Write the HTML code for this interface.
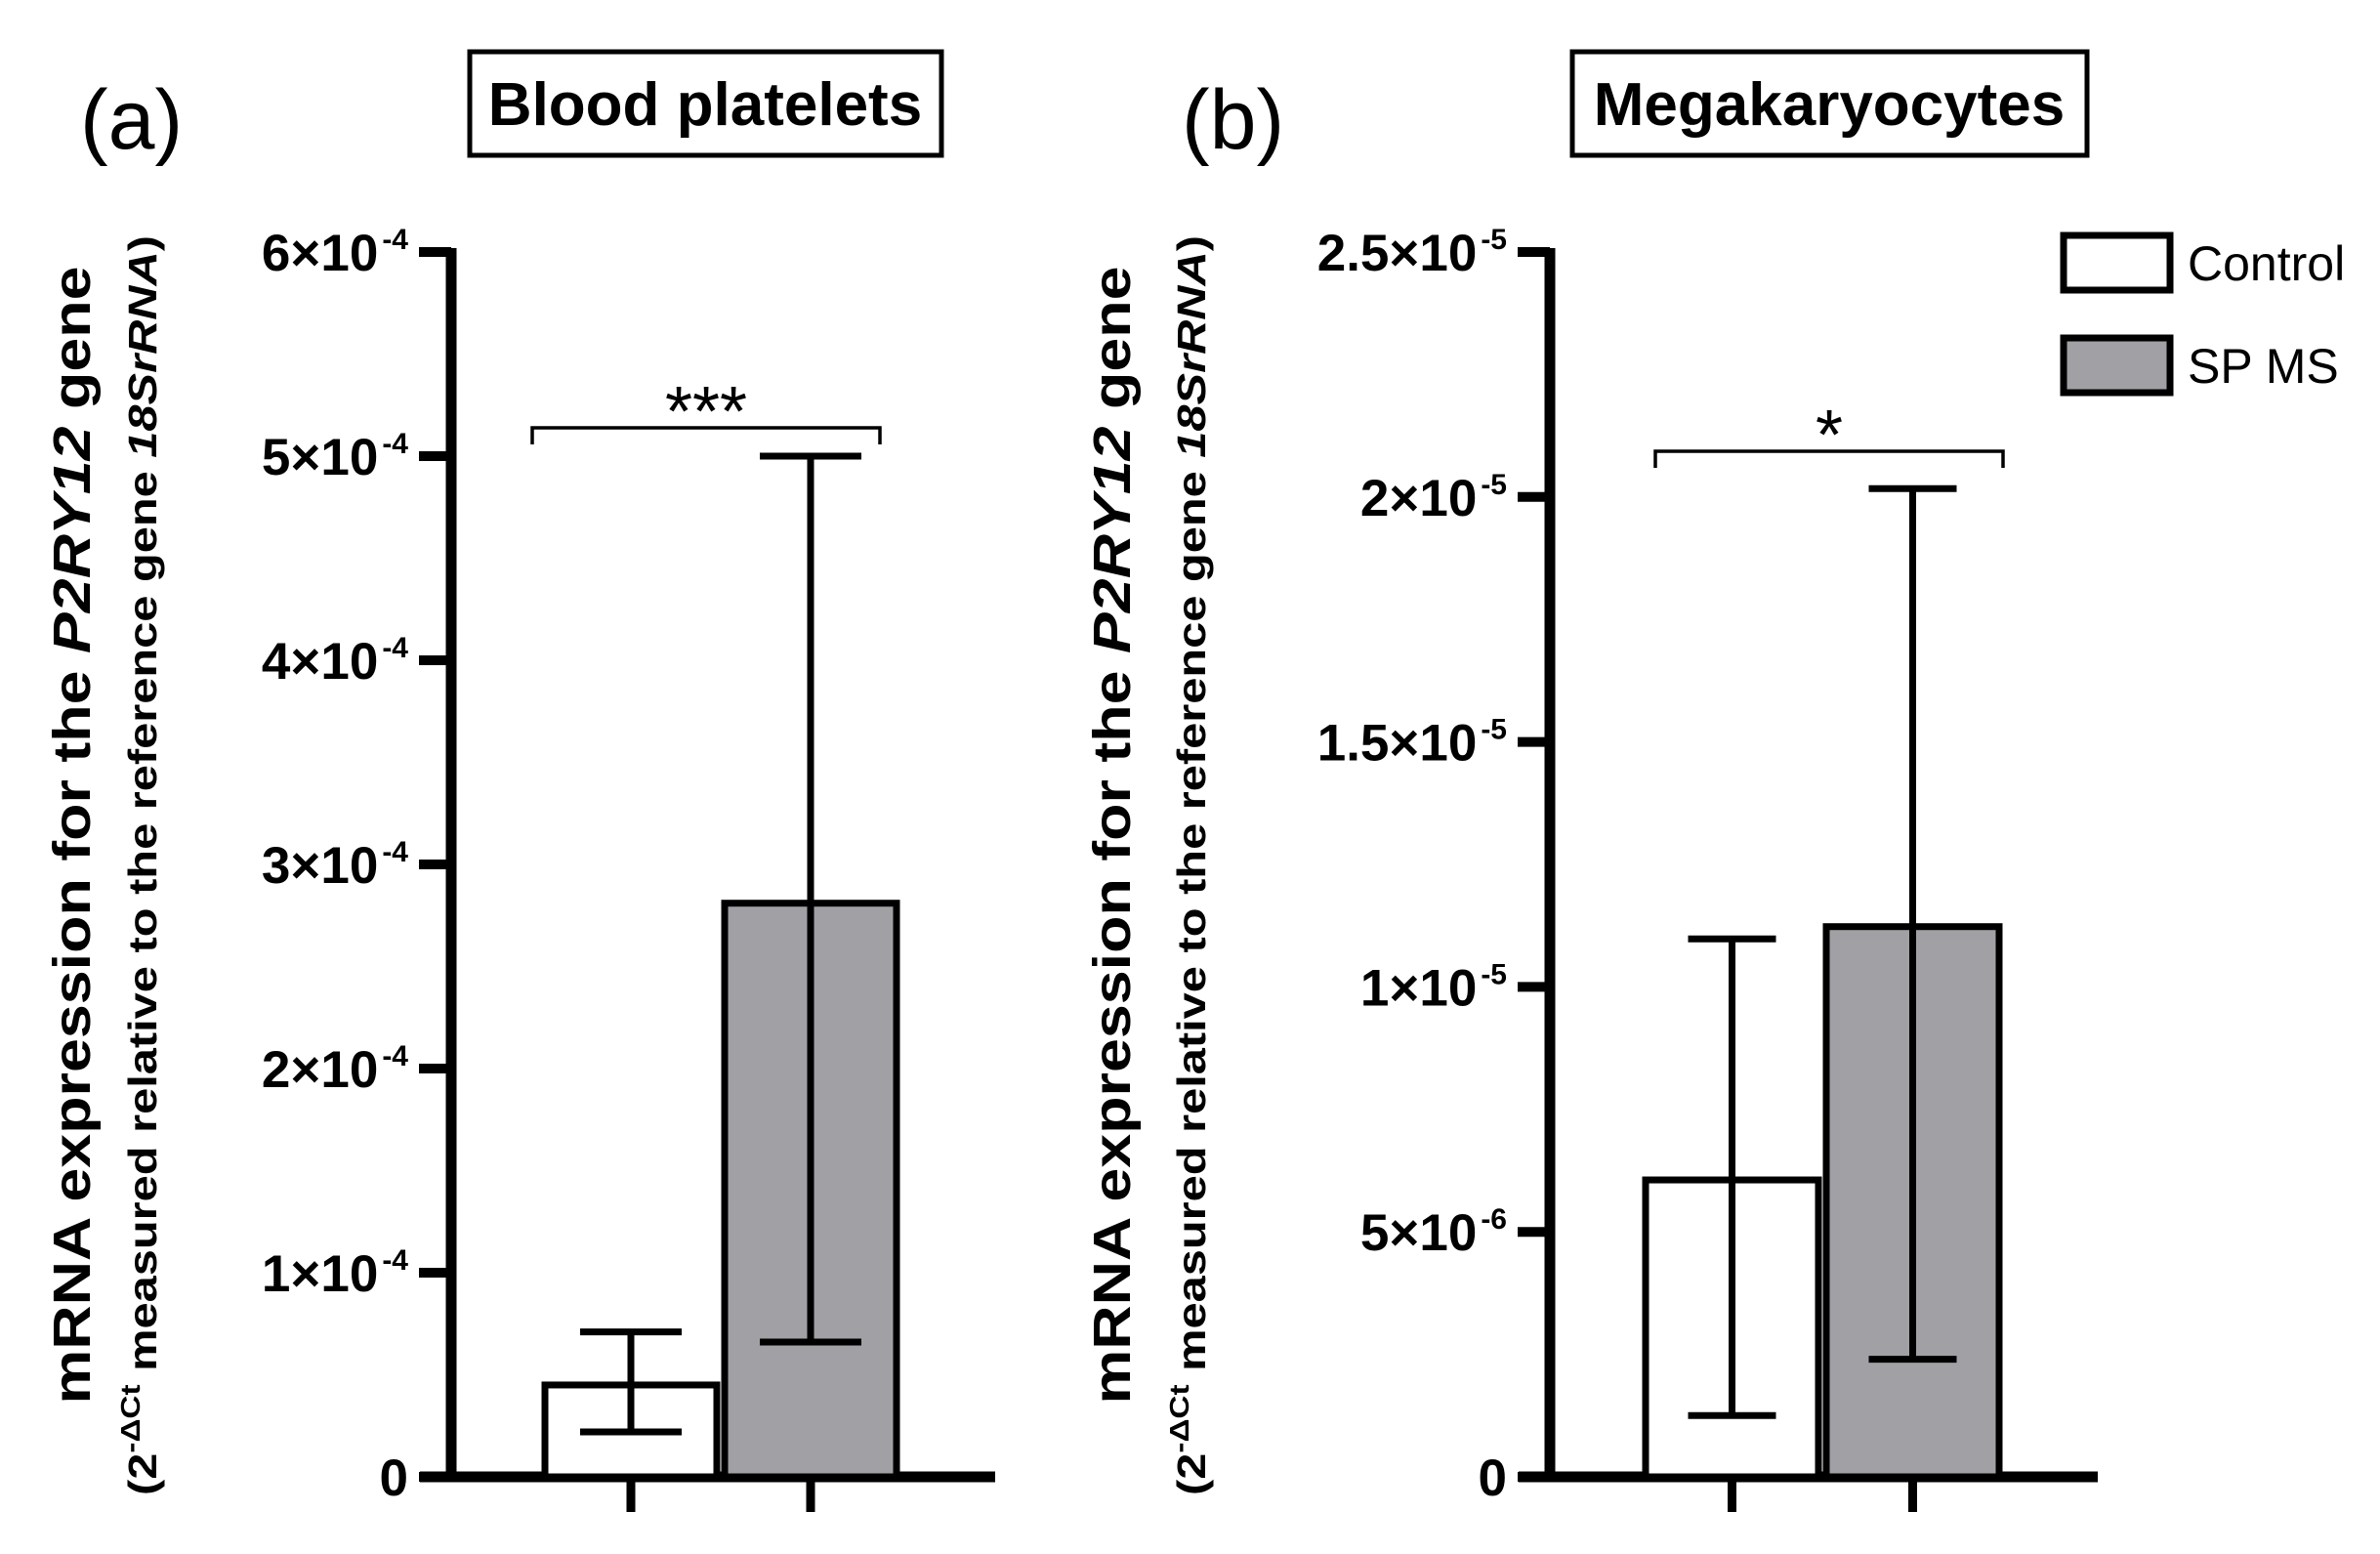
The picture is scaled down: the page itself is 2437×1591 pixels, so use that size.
<!DOCTYPE html>
<html><head><meta charset="utf-8"><style>
html,body{margin:0;padding:0;background:#fff;}
svg{display:block;font-family:"Liberation Sans",Arial,sans-serif;}
</style></head><body>
<svg id="c" width="2437" height="1591" viewBox="0 0 2437 1591" xmlns="http://www.w3.org/2000/svg">
<rect width="2437" height="1591" fill="#fff"/>
<text x="82" y="152" font-size="86">(a)</text>
<text x="1210" y="152" font-size="86">(b)</text>
<rect x="481" y="53" width="483" height="106" fill="none" stroke="#000" stroke-width="5"/>
<text x="722" y="128" font-size="62" font-weight="bold" text-anchor="middle">Blood platelets</text>
<rect x="1610" y="53" width="527" height="106" fill="none" stroke="#000" stroke-width="5"/>
<text x="1873" y="128" font-size="62" font-weight="bold" text-anchor="middle">Megakaryocytes</text>
<g>
<rect x="2113" y="241" width="109" height="56" fill="#fff" stroke="#000" stroke-width="7"/>
<text x="2240" y="287" font-size="50">Control</text>
<rect x="2113" y="346" width="109" height="56" fill="#a0a0a5" stroke="#000" stroke-width="7"/>
<text x="2240" y="392" font-size="50">SP MS</text>
</g>
<g id="pa"></g><g id="pb"></g>
</svg>
<script>
const categories = ["Control", "SP MS"];
const meansA = [4.5e-5, 2.81e-4];
const errLowA = [2.2e-5, 6.6e-5];
const errHighA = [7.1e-5, 5.0e-4];
const ticksA = [0, 1e-4, 2e-4, 3e-4, 4e-4, 5e-4, 6e-4];
const tickLabelsA = [["0",""],["1×10","-4"],["2×10","-4"],["3×10","-4"],["4×10","-4"],["5×10","-4"],["6×10","-4"]];
const meansB = [6.06e-6, 1.123e-5];
const errLowB = [1.25e-6, 2.4e-6];
const errHighB = [1.098e-5, 2.017e-5];
const ticksB = [0, 5e-6, 1e-5, 1.5e-5, 2e-5, 2.5e-5];
const tickLabelsB = [["0",""],["5×10","-6"],["1×10","-5"],["1.5×10","-5"],["2×10","-5"],["2.5×10","-5"]];
const sigA = "***";
const sigB = "*";

const NS = "http://www.w3.org/2000/svg";
function mk(parent, tag, attrs) {
  const e = document.createElementNS(NS, tag);
  for (const k in attrs) e.setAttribute(k, attrs[k]);
  parent.appendChild(e);
  return e;
}
function panel(g, cfg, means, lo, hi, ticks, labels, sig, p) {
  const top = 258, zero = 1512, yMax = ticks[ticks.length - 1];
  const y = v => zero - (v / yMax) * (zero - top);
  const ax = cfg.axisX;
  const yl = mk(g, "line", {x1: ax, y1: top - 4, x2: ax, y2: zero + 4, stroke: "#000", "stroke-width": 11});
  
  
  const xl = mk(g, "line", {x1: ax - 32, y1: zero, x2: cfg.xEnd, y2: zero, stroke: "#000", "stroke-width": 11});
  
  
  ticks.forEach((t, i) => {
    const tk = mk(g, "line", {x1: ax - 33, y1: y(t), x2: ax, y2: y(t), stroke: "#000", "stroke-width": 10});
    
    
    const tx = mk(g, "text", {x: ax - 44, y: y(t) + 19, "font-size": 53, "font-weight": "bold", "text-anchor": "end"});
    
    
    const s1 = mk(tx, "tspan", {});
    s1.textContent = labels[i][0];
    if (labels[i][1]) {
      const s2 = mk(tx, "tspan", {"font-size": 30, dy: -22, dx: 4});
      s2.textContent = labels[i][1];
    }
  });
  categories.forEach((c, i) => {
    const x0 = cfg.barX[i], w = cfg.barW, cx = x0 + w / 2;
    const b = mk(g, "rect", {x: x0, y: y(means[i]), width: w, height: zero - y(means[i]), fill: i ? "#a0a0a5" : "#fff", stroke: "#000", "stroke-width": 7});
    
    
    const ev = mk(g, "line", {x1: cx, y1: y(hi[i]), x2: cx, y2: y(lo[i]), stroke: "#000", "stroke-width": 7});
    
    
    [hi[i], lo[i]].forEach(v => {
      const cap = mk(g, "line", {x1: cx - cfg.cap, y1: y(v), x2: cx + cfg.cap, y2: y(v), stroke: "#000", "stroke-width": 7});
      
      
    });
    const ct = mk(g, "line", {x1: cx, y1: zero, x2: cx, y2: zero + 36, stroke: "#000", "stroke-width": 9});
    
    
  });
  const by = cfg.bracketY;
  const br = mk(g, "polyline", {points: `${cfg.bracket[0]},${by + 17} ${cfg.bracket[0]},${by} ${cfg.bracket[1]},${by} ${cfg.bracket[1]},${by + 17}`, fill: "none", stroke: "#000", "stroke-width": 3.5});
  
  
  const st = mk(g, "text", {x: (cfg.bracket[0] + cfg.bracket[1]) / 2, y: by + 8, "font-size": 72, "text-anchor": "middle"});
  
  
  st.textContent = sig;
  const L = mk(g, "text", {transform: `translate(${cfg.lab1},855) rotate(-90)`, "font-size": 54, "font-weight": "bold", "text-anchor": "middle", textLength: 1165, lengthAdjust: "spacingAndGlyphs"});
  
  
  L.innerHTML = 'mRNA expression for the <tspan font-style="italic">P2RY12</tspan> gene';
  const L2 = mk(g, "text", {transform: `translate(${cfg.lab2},886) rotate(-90)`, "font-size": 41, "font-weight": "bold", "text-anchor": "middle", textLength: 1290, lengthAdjust: "spacingAndGlyphs"});
  
  
  L2.innerHTML = '(2<tspan font-size="28" dy="-17">-ΔCt</tspan><tspan dy="17"> measured relative to the reference gene </tspan><tspan font-style="italic">18SrRNA</tspan>)';
}
panel(document.getElementById("pa"), {axisX: 462, xEnd: 1019, barX: [558, 742], barW: 176, cap: 52, bracketY: 438, bracket: [545, 901], lab1: 92, lab2: 160}, meansA, errLowA, errHighA, ticksA, tickLabelsA, sigA, "panel-a");
panel(document.getElementById("pb"), {axisX: 1587, xEnd: 2148, barX: [1685, 1870], barW: 177, cap: 45, bracketY: 462, bracket: [1695, 2051], lab1: 1157, lab2: 1234}, meansB, errLowB, errHighB, ticksB, tickLabelsB, sigB, "panel-b");
</script>
</body></html>
